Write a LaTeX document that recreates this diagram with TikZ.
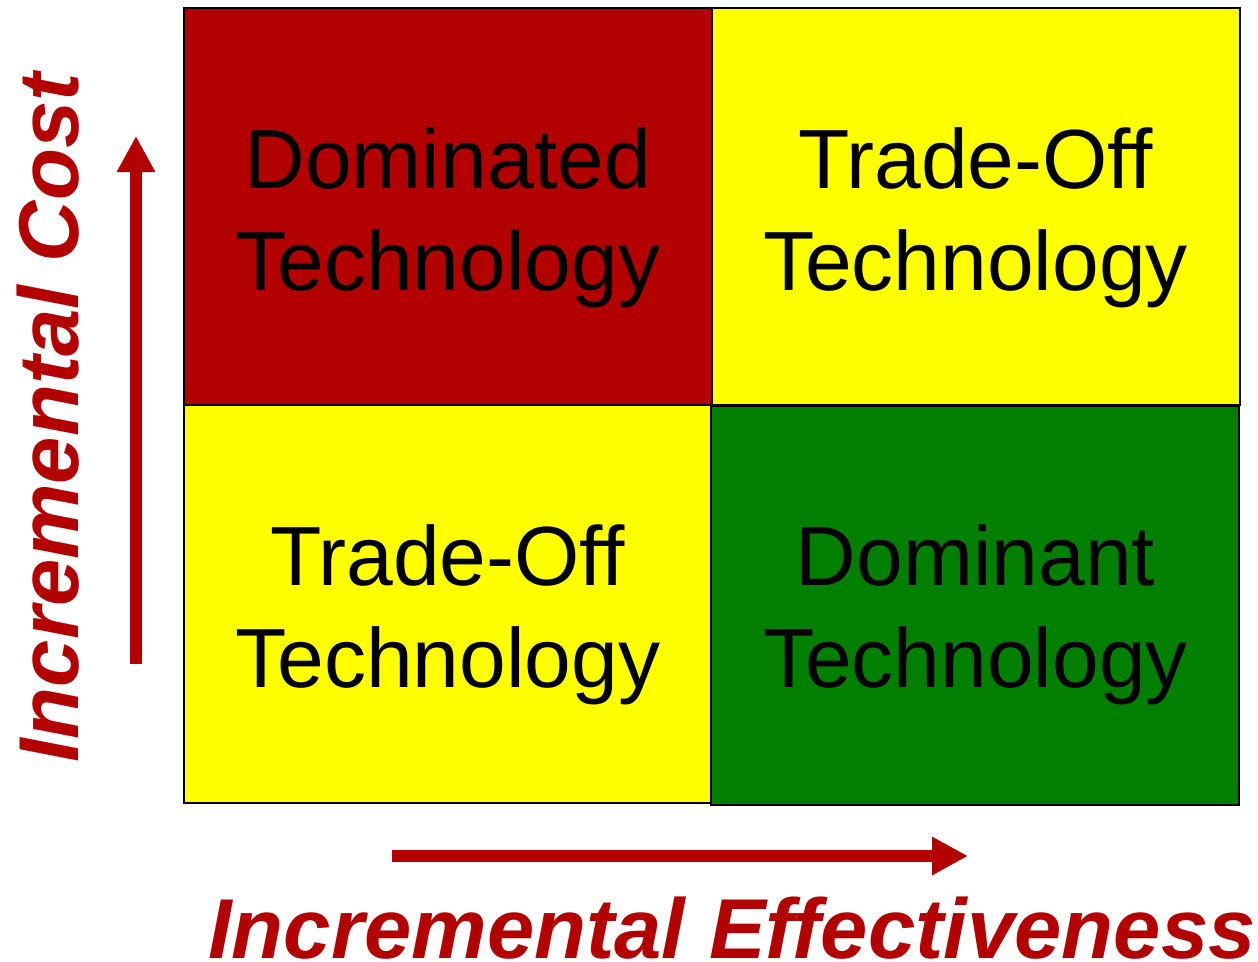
\documentclass[tikz,border=0pt]{standalone}
\usepackage{fontspec}
\setmainfont{Liberation Sans}
\usepackage{xcolor}
\usepackage{tikz}
\usetikzlibrary{arrows.meta}
\definecolor{rosso}{RGB}{179,0,0}
\definecolor{giallo}{RGB}{255,255,0}
\definecolor{verde}{RGB}{0,127,0}
\tikzset{>={Triangle[width=36pt,length=36pt]}}
\tikzset{
	quadrante/.style={line width=2pt, draw=black},
	etichetta/.style={align=center, yshift=-11pt, font=\fontsize{84}{102}\selectfont},
	asse/.style={->, line width=12pt, draw=rosso},
	titolo/.style={text=rosso, inner sep=0pt, font=\fontsize{85}{102}\selectfont\bfseries\itshape}
}

\begin{document}
\begin{tikzpicture}[x=1pt, y=-1pt]
	\useasboundingbox (0,0) rectangle (1258,961);

	\pgfmathsetmacro{\xa}{184}
	\pgfmathsetmacro{\xb}{711.5}
	\pgfmathsetmacro{\xc}{1239.5}
	\pgfmathsetmacro{\ya}{8}
	\pgfmathsetmacro{\yb}{405}
	\pgfmathsetmacro{\yc}{803}

	% Quadranti
	\filldraw[quadrante, fill=rosso] (\xa,\ya) rectangle (\xb,\yb);
	\filldraw[quadrante, fill=giallo] (\xb,\ya) rectangle (\xc,\yb);
	\filldraw[quadrante, fill=giallo] (\xa,\yb) rectangle (\xb,\yc);
	\filldraw[quadrante, fill=verde] (\xb-1,\yb+1) rectangle (\xc-1,\yc+2);

	\node[etichetta] (dominated) at ({(\xa+\xb)/2}, {(\ya+\yb)/2}) {Dominated\\Technology};
	\node[etichetta] (tradeoffalto) at ({(\xb+\xc)/2}, {(\ya+\yb)/2}) {Trade-Off\\Technology};
	\node[etichetta] (tradeoffbasso) at ({(\xa+\xb)/2}, {(\yb+\yc)/2}) {Trade-Off\\Technology};
	\node[etichetta] (dominant) at ({(\xb+\xc)/2}, {(\yb+\yc)/2}) {Dominant\\Technology};

	% Assi
	\coordinate[](c0) at (136,664);
	\coordinate[](c1) at (136,136);
	\coordinate[](e0) at (392,856);
	\coordinate[](e1) at (968,856);
	\draw[asse] (c0) -- (c1);
	\draw[asse] (e0) -- (e1);

	\node[titolo, rotate=90, anchor=base] (costo) at (78,418) {Incremental Cost};
	\node[titolo, anchor=base] (efficacia) at (732,958) {Incremental Effectiveness};
\end{tikzpicture}
\end{document}
